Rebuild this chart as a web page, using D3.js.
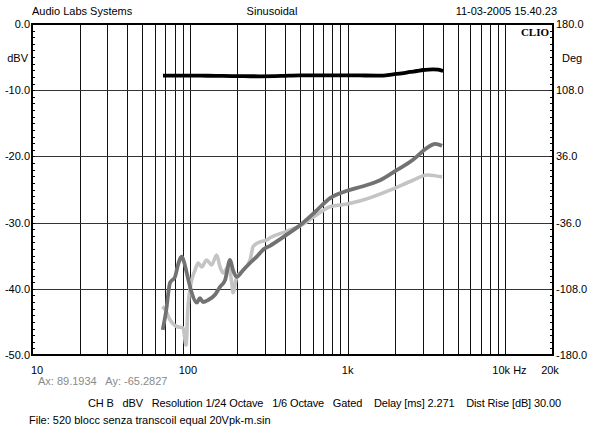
<!DOCTYPE html>
<html><head><meta charset="utf-8">
<script src="https://cdn.jsdelivr.net/npm/d3@7"></script>
<style>
html,body{margin:0;padding:0;background:#fff;}
svg{display:block;}
text{font-family:"Liberation Sans",Arial,sans-serif;font-size:11px;fill:#000;}
</style></head>
<body><svg id="c" width="594" height="427"></svg>
<script>
// ---- data ----
const freqTicks = [10, 100, 1000, 10000, 20000];
const freqTickLabels = ["10", "100", "1k", "10k Hz", "20k"];
const dbTicks = [0, -10, -20, -30, -40, -50];
const dbTickLabels = ["0.0", "-10.0", "-20.0", "-30.0", "-40.0", "-50.0"];
const degTickLabels = ["180.0", "108.0", "36.0", "-36.0", "-108.0", "-180.0"];

const blackFreq = [67.6, 80, 100, 130, 162, 220, 279, 380, 499, 700, 1035, 1300, 1675, 1940, 2200, 2485, 2750, 3005, 3250, 3478, 3750, 4027];
const blackDb   = [-7.81, -7.8, -7.8, -7.82, -7.85, -7.88, -7.9, -7.85, -7.75, -7.75, -7.75, -7.78, -7.8, -7.6, -7.45, -7.25, -7.1, -6.95, -6.88, -6.85, -6.9, -7.1];

const darkFreq = [67.3, 70.6, 74.9, 80.6, 84.1, 88.9, 91.9, 95.6, 98.9, 102.8, 110.6, 116.0, 121.3, 130.4, 144.4, 155.4, 167.2, 179.8, 187.8, 198.3, 217.3, 240.7, 265.5, 291, 322, 401, 499, 621, 774, 991, 1252, 1605, 2056, 2597, 3186, 3580, 3965];
const darkDb   = [-46.2, -43.5, -39.1, -38.2, -36.4, -35.15, -35.95, -37.6, -39.1, -40.6, -42.1, -41.4, -42.0, -41.7, -40.9, -39.7, -38.7, -35.65, -37.2, -38.2, -37.2, -36.1, -35.15, -34.1, -33.5, -32.0, -30.4, -28.4, -26.3, -25.2, -24.5, -23.6, -22.05, -20.5, -18.7, -18.1, -18.4];

const lightFreq = [67.0, 70.0, 74.9, 82.7, 90.7, 94.6, 97.4, 102.8, 107.9, 112.9, 119.0, 127.6, 137.4, 147.9, 155.4, 162.4, 174.9, 184.5, 187.8, 198.3, 217.3, 240.7, 252.3, 279.5, 308, 322, 401, 499, 621, 774, 991, 1252, 1855, 2597, 3186, 3965];
const lightDb   = [-42.7, -43.2, -44.7, -45.7, -45.9, -48.5, -42.7, -38.7, -37.2, -36.1, -36.7, -35.65, -36.4, -34.9, -36.7, -37.6, -36.7, -39.1, -40.6, -38.2, -37.2, -35.65, -33.6, -32.9, -32.6, -32.3, -31.4, -30.5, -29.0, -27.6, -27.2, -26.6, -25.1, -23.6, -22.8, -23.1];

const gridFreqs = [20,30,40,50,60,70,80,90,100,200,300,400,500,600,700,800,900,1000,2000,3000,4000,5000,6000,7000,8000,9000,10000];
const gridDb = [-10, -20, -30, -40];

// ---- layout ----
const L = 32, R = 553, T = 24, B = 355;
const svg = d3.select("#c");
const x = d3.scaleLog().domain([10, 20000]).range([L, R]);
const y = d3.scaleLinear().domain([-50, 0]).range([B, T]);

// header
svg.append("text").attr("x", 32).attr("y", 15).text("Audio Labs Systems");
svg.append("text").attr("x", 272).attr("y", 15).attr("text-anchor", "middle").text("Sinusoidal");
svg.append("text").attr("x", 557).attr("y", 15).attr("text-anchor", "end").text("11-03-2005 15.40.23");

// grid
const g = svg.append("g");
g.selectAll("line.v").data(gridFreqs).join("line")
  .attr("x1", d => Math.round(x(d)) + 0.5).attr("x2", d => Math.round(x(d)) + 0.5)
  .attr("y1", T).attr("y2", B).attr("stroke", "#111").attr("stroke-width", 1);
g.selectAll("line.h").data(gridDb).join("line")
  .attr("y1", d => Math.round(y(d)) + 0.5).attr("y2", d => Math.round(y(d)) + 0.5)
  .attr("x1", L).attr("x2", R).attr("stroke", "#333").attr("stroke-width", 1);

// minor ticks
const minor = d3.range(-50, 1, 1);
g.selectAll("line.ml").data(minor).join("line")
  .attr("x1", L).attr("x2", L + 3)
  .attr("y1", d => Math.round(y(d)) + 0.5).attr("y2", d => Math.round(y(d)) + 0.5)
  .attr("stroke", "#000");
g.selectAll("line.mr").data(minor).join("line")
  .attr("x1", R - 3).attr("x2", R)
  .attr("y1", d => Math.round(y(d)) + 0.5).attr("y2", d => Math.round(y(d)) + 0.5)
  .attr("stroke", "#000");

// curves
const line = (fs, ds) => d3.line().curve(d3.curveMonotoneX)
  .x((d, i) => x(fs[i])).y((d, i) => y(ds[i]))(fs);
svg.append("path").attr("d", line(lightFreq, lightDb)).attr("fill", "none")
  .attr("stroke", "#c4c4c4").attr("stroke-width", 3.6).attr("stroke-linejoin", "round");
svg.append("path").attr("d", line(darkFreq, darkDb)).attr("fill", "none")
  .attr("stroke", "#727272").attr("stroke-width", 3.8).attr("stroke-linejoin", "round");
svg.append("path").attr("d", line(blackFreq, blackDb)).attr("fill", "none")
  .attr("stroke", "#000").attr("stroke-width", 3.8).attr("stroke-linejoin", "round");

// frame
svg.append("rect").attr("x", L).attr("y", T).attr("width", R - L).attr("height", B - T)
  .attr("fill", "none").attr("stroke", "#000").attr("stroke-width", 2);

// side labels
svg.selectAll("text.yl").data(dbTicks).join("text")
  .attr("x", 30).attr("y", d => y(d) + 4).attr("text-anchor", "end")
  .text((d, i) => dbTickLabels[i]);
svg.selectAll("text.yr").data(dbTicks).join("text")
  .attr("x", 556).attr("y", d => y(d) + 4)
  .text((d, i) => degTickLabels[i]);
svg.append("text").attr("x", 28).attr("y", 62).attr("text-anchor", "end").text("dBV");
svg.append("text").attr("x", 562).attr("y", 62).text("Deg");
svg.append("text").attr("x", 549).attr("y", 36).attr("text-anchor", "end")
  .style("font-family", "'Liberation Serif',serif").style("font-weight", "bold").text("CLIO");

// x labels
const xAnchor = ["start", "middle", "middle", "middle", "middle"];
const xOff = [-1, -2, 0, 4, -3];
svg.selectAll("text.xl").data(freqTicks).join("text")
  .attr("x", (d, i) => x(d) + xOff[i]).attr("y", 374)
  .attr("text-anchor", (d, i) => xAnchor[i])
  .text((d, i) => freqTickLabels[i]);

// footer
svg.append("text").attr("x", 38).attr("y", 385).style("fill", "#8a8a8a").attr("xml:space", "preserve")
  .text("Ax: 89.1934   Ay: -65.2827");
svg.append("text").attr("x", 88).attr("y", 407).attr("xml:space", "preserve")
  .attr("textLength", 473).attr("lengthAdjust", "spacing")
  .text("CH B   dBV   Resolution 1/24 Octave   1/6 Octave   Gated    Delay [ms] 2.271    Dist Rise [dB] 30.00");
svg.append("text").attr("x", 29).attr("y", 424).text("File: 520 blocc senza transcoil equal 20Vpk-m.sin");
</script></body></html>
